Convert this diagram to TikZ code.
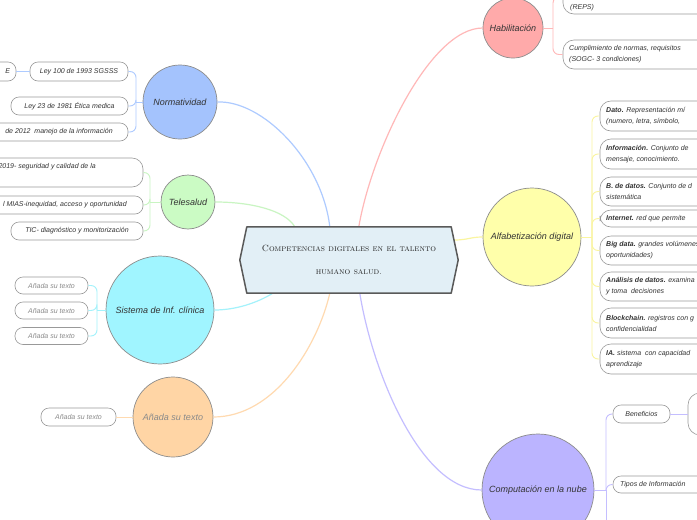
\documentclass[tikz,border=0pt]{standalone}
\usepackage{fontspec}
\setsansfont{Liberation Sans}
\usetikzlibrary{calc}
\definecolor{cnorm}{HTML}{A4C3FD}
\definecolor{lnorm}{HTML}{AECBFF}
\definecolor{ctele}{HTML}{CBFBC4}
\definecolor{ltele}{HTML}{C9F5C2}
\definecolor{csis}{HTML}{A0F5FF}
\definecolor{lsis}{HTML}{A4F2FB}
\definecolor{cana}{HTML}{FFD5A5}
\definecolor{lana}{HTML}{FFDAB0}
\definecolor{chab}{HTML}{FFAAAA}
\definecolor{lhab}{HTML}{FFB8B8}
\definecolor{calf}{HTML}{FFFFAA}
\definecolor{lalf}{HTML}{FAF5A0}
\definecolor{ccom}{HTML}{BBB4FF}
\definecolor{lcom}{HTML}{C4BEFF}
\definecolor{ccen}{HTML}{E2EFF6}
\definecolor{circgray}{HTML}{8C8C8C}
\definecolor{boxgray}{HTML}{999999}
\definecolor{textdark}{HTML}{333333}
\definecolor{phgray}{HTML}{8A8A8A}
\begin{document}
\begin{tikzpicture}[x=1pt,y=-1pt,
  hub/.style={circle, draw=circgray, line width=0.7pt, inner sep=0pt,
    font=\sffamily\itshape\fontsize{9}{11}\selectfont, text=textdark},
  leaf/.style={draw=boxgray, line width=0.6pt, rounded corners=8pt, inner sep=0pt,
    font=\sffamily\itshape\fontsize{7}{8}\selectfont, text=textdark},
  ph/.style={leaf, text=phgray},
  tx/.style={inner sep=0pt, font=\sffamily\itshape\fontsize{7}{11}\selectfont, text=textdark, align=left},
  trunk/.style={line width=1.2pt},
  twig/.style={line width=0.9pt, rounded corners=6pt}]
\useasboundingbox[fill=white] (0,0) rectangle (697,520);

% central node (shape drawn later)
\node[minimum width=218, minimum height=66, inner sep=0pt] (c) at (349,260) {};

% hubs
\node[hub, fill=cnorm, minimum size=74] (norm) at (180,102) {Normatividad};
\node[hub, fill=ctele, minimum size=54] (tele) at (188,202) {Telesalud};
\node[hub, fill=csis, minimum size=108] (sis) at (160,310) {Sistema de Inf. clínica};
\node[hub, fill=cana, minimum size=80, text=phgray] (ana) at (173,417) {Añada su texto};
\node[hub, fill=chab, minimum size=60] (hab) at (513,28) {Habilitación};
\node[hub, fill=calf, minimum size=98] (alf) at (532,237) {Alfabetización digital};
\node[hub, fill=ccom, minimum size=112] (com) at (538,490) {Computación en la nube};

% main connectors
\draw[trunk, lnorm] (norm.east) .. controls (262,100) and (322,160) .. ([xshift=90]c.north west);
\draw[trunk, ltele] (tele.east) .. controls (250,202) and (285,210) .. ([xshift=55]c.north west);
\draw[trunk, lsis] (sis.east) .. controls (240,310) and (262,300) .. ([xshift=33]c.south west);
\draw[trunk, lana] (ana.east) .. controls (275,417) and (318,345) .. ([xshift=90]c.south west);
\draw[trunk, lhab] (hab.west) .. controls (430,28) and (372,150) .. ([xshift=119]c.north west);
\draw[trunk, lcom] (com.west) .. controls (420,490) and (372,370) .. ([xshift=120]c.south west);
\draw[trunk, lalf] ([xshift=-4,yshift=20]c.east) .. controls (468,240) and (470,237) .. (alf.west);

% central shape
\draw[fill=ccen, draw=black!65, line width=1.5pt, line join=round]
  (c.west) -- ([xshift=7]c.north west) -- ([xshift=-7]c.north east) -- (c.east)
  -- ([xshift=-7]c.south east) -- ([xshift=7]c.south west) -- cycle;
\node[inner sep=0pt, font=\rmfamily\upshape\fontsize{9}{23}\selectfont, align=center, text=black!85] (ct) at (349,260)
  {\textsc{Competencias digitales en el talento}\\\textsc{humano salud.}};

% Normatividad leaves
\node[leaf, minimum width=98, minimum height=19] (nl1) at (79,71.5) {Ley 100 de 1993 SGSSS};
\node[leaf, minimum width=117, minimum height=18] (nl2) at (69.5,106) {Ley 23 de 1981 Ética medica};
\node[leaf, minimum width=138, minimum height=18] (nl3) at (59,132) {de 2012\ \ manejo de la información};
\node[leaf, minimum height=19, inner xsep=6pt, text width=64pt, align=right] (nl0) at (-22,71.5) {E};
\coordinate (normb) at (136,102);
\draw[twig, lnorm] (norm.west) -- (normb);
\draw[twig, lnorm] (normb) |- (nl1.east);
\draw[twig, lnorm] (normb) |- (nl2.east);
\draw[twig, lnorm] (normb) |- (nl3.east);
\draw[twig, lnorm] (nl1.west) -- (nl0.east);

% Telesalud leaves
\node[leaf, minimum width=363, minimum height=29, rounded corners=11pt] (tl1) at (-38.5,172.5) {};
\node[tx, anchor=east] (tl1t) at (96,167) {2019- seguridad y calidad de la};
\node[leaf, minimum width=263, minimum height=18] (tl2) at (11.5,205) {};
\node[tx, anchor=east] (tl2t) at (127,205) {l MIAS-inequidad, acceso y oportunidad};
\node[leaf, minimum width=132, minimum height=18] (tl3) at (77,231) {TIC- diagnóstico y monitorización};
\coordinate (teleb) at (150,202);
\draw[twig, ltele] (tele.west) -- (teleb);
\draw[twig, ltele] (teleb) |- (tl1.east);
\draw[twig, ltele] (teleb) |- (tl2.east);
\draw[twig, ltele] (teleb) |- (tl3.east);

% Sistema leaves
\node[ph, minimum width=73, minimum height=17] (sl1) at (51.5,285.5) {Añada su texto};
\node[ph, minimum width=73, minimum height=17] (sl2) at (51.5,310.5) {Añada su texto};
\node[ph, minimum width=73, minimum height=17] (sl3) at (51.5,336) {Añada su texto};
\coordinate (sisb) at (97,310);
\draw[twig, lsis] (sis.west) -- (sisb);
\draw[twig, lsis] (sisb) |- (sl1.east);
\draw[twig, lsis] (sisb) |- (sl2.east);
\draw[twig, lsis] (sisb) |- (sl3.east);

% Añada leaf
\node[ph, minimum width=75, minimum height=18] (al1) at (78.5,417) {Añada su texto};
\draw[twig, lana] (ana.west) -- (al1.east);

% Habilitación leaves
\node[leaf, minimum width=237, minimum height=34, rounded corners=11pt] (hb1) at (681.5,-3) {};
\node[tx, anchor=west] (hb1t) at (570,8) {(REPS)};
\node[leaf, minimum width=237, minimum height=29, rounded corners=11pt] (hb2) at (681.5,54.5) {};
\node[tx, anchor=west] (hb2t) at (569,54.5) {Cumplimiento de normas, requisitos\\(SOGC- 3 condiciones)};
\coordinate (habb) at (553,28);
\draw[twig, lhab] (hab.east) -- (habb);
\draw[twig, lhab] (habb) |- (hb1.west);
\draw[twig, lhab] (habb) |- (hb2.west);

% Alfabetización leaves
\foreach \n/\y/\h in {a1/116/30, a2/154/30, a3/191.5/29, a4/218.5/17, a5/250.5/29, a6/286.5/29, a7/323/30, a8/359/30}{
  \node[leaf, minimum width=200, minimum height=\h, rounded corners=11pt] (\n) at (700,\y) {};
}
\node[tx, anchor=west] (a1t) at (606,116) {\textbf{Dato.} Representación mí\\(numero, letra, símbolo,};
\node[tx, anchor=west] (a2t) at (606,154) {\textbf{Información.} Conjunto de\\mensaje, conocimiento.};
\node[tx, anchor=west] (a3t) at (606,191.5) {\textbf{B. de datos.} Conjunto de d\\sistemática};
\node[tx, anchor=west] (a4t) at (606,218.5) {\textbf{Internet.} red que permite};
\node[tx, anchor=west] (a5t) at (606,250.5) {\textbf{Big data.} grandes volúmenes\\oportunidades)};
\node[tx, anchor=west] (a6t) at (606,286.5) {\textbf{Análisis de datos.} examina\\y toma\ \ decisiones};
\node[tx, anchor=west] (a7t) at (606,323) {\textbf{Blockchain.} registros con g\\confidencialidad};
\node[tx, anchor=west] (a8t) at (606,359) {\textbf{IA.} sistema\ \ con capacidad\\aprendizaje};
\coordinate (alfb) at (592,237);
\draw[twig, lalf] (alf.east) -- (alfb);
\foreach \n in {a1,a2,a3,a4,a5,a6,a7,a8}{
  \draw[twig, lalf] (alfb) |- (\n.west);
}

% Computación leaves
\node[leaf, minimum width=57, minimum height=18] (ben) at (641.5,414) {Beneficios};
\node[leaf, minimum width=112, minimum height=42, rounded corners=12pt] (benc) at (744,414) {};
\node[leaf, minimum width=147, minimum height=17] (tip) at (686.5,484.5) {};
\node[tx, anchor=west] (tipt) at (620,484.5) {Tipos de Información};
\coordinate (comb) at (606,490);
\coordinate (comend) at (606,530);
\draw[twig, lcom] (com.east) -- (comb);
\draw[twig, lcom] (comb) |- (ben.west);
\draw[twig, lcom] (comb) |- (tip.west);
\draw[twig, lcom] (comb) -- (comend);
\draw[twig, lcom] (ben.east) -- (benc.west);
\end{tikzpicture}
\end{document}
